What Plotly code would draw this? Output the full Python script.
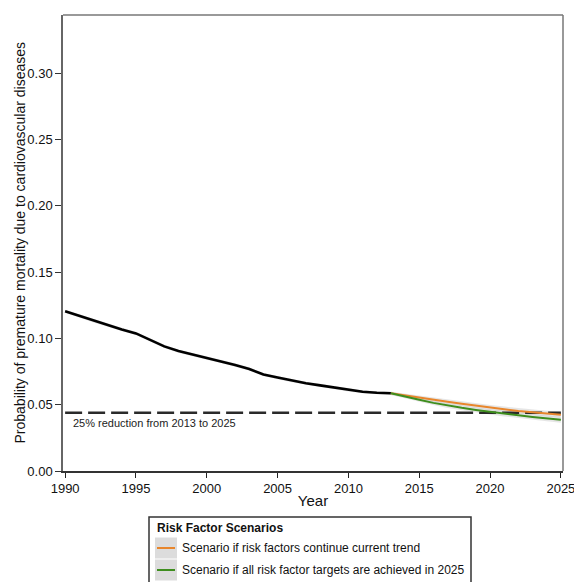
import plotly.graph_objects as go

# ---- data ----
hist_years = list(range(1990, 2014))
hist_vals = [0.1205, 0.1170, 0.1132, 0.1100, 0.1068, 0.1038, 0.0990, 0.0940, 0.0905, 0.0880,
             0.0852, 0.0826, 0.0800, 0.0770, 0.0728, 0.0705, 0.0682, 0.0662, 0.0646, 0.0630,
             0.0612, 0.0598, 0.0590, 0.0586]
hist_lo = [v - 0.0012 for v in hist_vals]
hist_hi = [v + 0.0012 for v in hist_vals]

proj_years = list(range(2013, 2026))
trend_vals = [0.0586, 0.0569, 0.0552, 0.0537, 0.0522, 0.0507, 0.0492, 0.0477, 0.0465, 0.0453,
              0.0442, 0.0433, 0.0425]
target_vals = [0.0586, 0.0560, 0.0537, 0.0514, 0.0494, 0.0477, 0.0461, 0.0446, 0.0433, 0.0420,
               0.0408, 0.0397, 0.0386]
proj_band_hw = [0.0012, 0.0014, 0.0016, 0.0017, 0.0018, 0.0019, 0.0020, 0.0020, 0.0021, 0.0021,
                0.0022, 0.0022, 0.0022]

target_level = 0.044
target_label = "25% reduction from 2013 to 2025"

legend_title = "Risk Factor Scenarios"
series_names = ["Scenario if risk factors continue current trend",
                "Scenario if all risk factor targets are achieved in 2025"]
series_colors = ["#E8862C", "#3E8E1E"]
band_color = "rgba(200,200,200,0.45)"

x_ticks = [1990, 1995, 2000, 2005, 2010, 2015, 2020, 2025]
y_ticks = [0.00, 0.05, 0.10, 0.15, 0.20, 0.25, 0.30]

# ---- layout geometry (pixels) ----
W, H = 574, 582
ML, MR, MT, MB = 63, 11, 15, 111
PW, PH = W - ML - MR, H - MT - MB


def px(x):
    return (x - ML) / PW


def py(y):
    return (H - MB - y) / PH


fig = go.Figure()


def band(xs, lo, hi):
    return go.Scatter(x=list(xs) + list(xs)[::-1], y=list(hi) + list(lo)[::-1],
                      fill="toself", fillcolor=band_color, line=dict(width=0),
                      mode="lines", hoverinfo="skip", showlegend=False)


fig.add_trace(band(hist_years, hist_lo, hist_hi))
for vals in (trend_vals, target_vals):
    fig.add_trace(band(proj_years, [v - h for v, h in zip(vals, proj_band_hw)],
                       [v + h for v, h in zip(vals, proj_band_hw)]))

# target dashed line
fig.add_trace(go.Scatter(x=[x_ticks[0], x_ticks[-1]], y=[target_level, target_level], mode="lines",
                         line=dict(color="#2a2a2a", width=2.5, dash="17px,6px"),
                         showlegend=False, hoverinfo="skip"))

fig.add_trace(go.Scatter(x=hist_years, y=hist_vals, mode="lines",
                         line=dict(color="black", width=2.6), showlegend=False))
for name, vals, col in zip(series_names, (trend_vals, target_vals), series_colors):
    fig.add_trace(go.Scatter(x=proj_years, y=vals, mode="lines", name=name,
                             line=dict(color=col, width=2), showlegend=False))

fig.add_annotation(x=px(71), y=target_level, xref="paper", yref="y", text=target_label,
                   showarrow=False, xanchor="left", yanchor="middle", yshift=-10.5,
                   font=dict(size=11, color="#222"))

# y-axis title as annotation (sits close to the tick labels like the reference)
fig.add_annotation(x=px(19.5), y=0.5, xref="paper", yref="paper",
                   text="Probability of premature mortality due to cardiovascular diseases",
                   textangle=-90, showarrow=False, xanchor="center", yanchor="middle",
                   font=dict(size=14, color="#111"))

shapes = [dict(type="line", xref="paper", yref="paper", x0=0, x1=1, y0=1, y1=1,
               line=dict(color="#777", width=1.5)),
          dict(type="line", xref="paper", yref="paper", x0=1, x1=1, y0=0, y1=1,
               line=dict(color="#777", width=1.5))]

# ---- manual legend (box runs off the bottom like the reference) ----
LX0, LX1, LY0 = 149, 471, 517
shapes.append(dict(type="rect", xref="paper", yref="paper", x0=px(LX0), x1=px(LX1),
                   y0=py(LY0), y1=py(H + 20), line=dict(color="#333", width=1.5),
                   fillcolor="white", layer="above"))
fig.add_annotation(x=px(155), y=py(528), xref="paper", yref="paper",
                   text="<b>" + legend_title + "</b>", showarrow=False,
                   xanchor="left", yanchor="middle", font=dict(size=12, color="#111"))
for i, (name, col) in enumerate(zip(series_names, series_colors)):
    cy = 548 + 22 * i
    shapes.append(dict(type="rect", xref="paper", yref="paper", x0=px(155), x1=px(177),
                       y0=py(cy - 10.5), y1=py(cy + 10.5), line=dict(width=0),
                       fillcolor="#dcdcdc", layer="above"))
    shapes.append(dict(type="line", xref="paper", yref="paper", x0=px(157), x1=px(175),
                       y0=py(cy), y1=py(cy), line=dict(color=col, width=2), layer="above"))
    fig.add_annotation(x=px(180), y=py(cy), xref="paper", yref="paper", text=name,
                       showarrow=False, xanchor="left", yanchor="middle",
                       font=dict(size=12, color="#111"))

fig.update_layout(
    width=W, height=H,
    margin=dict(l=ML, r=MR, t=MT, b=MB),
    plot_bgcolor="white", paper_bgcolor="white",
    showlegend=False,
    font=dict(family="Liberation Sans, Arial, sans-serif", color="#111", size=13),
    xaxis=dict(range=[1989.85, 2025.15], tickvals=x_ticks, ticks="outside", ticklen=5,
               tickcolor="#222", showline=True, linecolor="#333", linewidth=1.5,
               showgrid=False, zeroline=False, ticklabeloverflow="allow",
               ticklabelstandoff=0, automargin=False,
               title=dict(text="Year", font=dict(size=15), standoff=0),
               tickfont=dict(size=13)),
    yaxis=dict(range=[0, 0.344], tickvals=y_ticks, tickformat=".2f", ticks="outside", ticklen=6,
               tickcolor="#333", showline=True, linecolor="#666", linewidth=1.5,
               showgrid=False, zeroline=False, automargin=False,
               tickfont=dict(size=13)),
    shapes=shapes,
)

fig.write_html("out.html")
